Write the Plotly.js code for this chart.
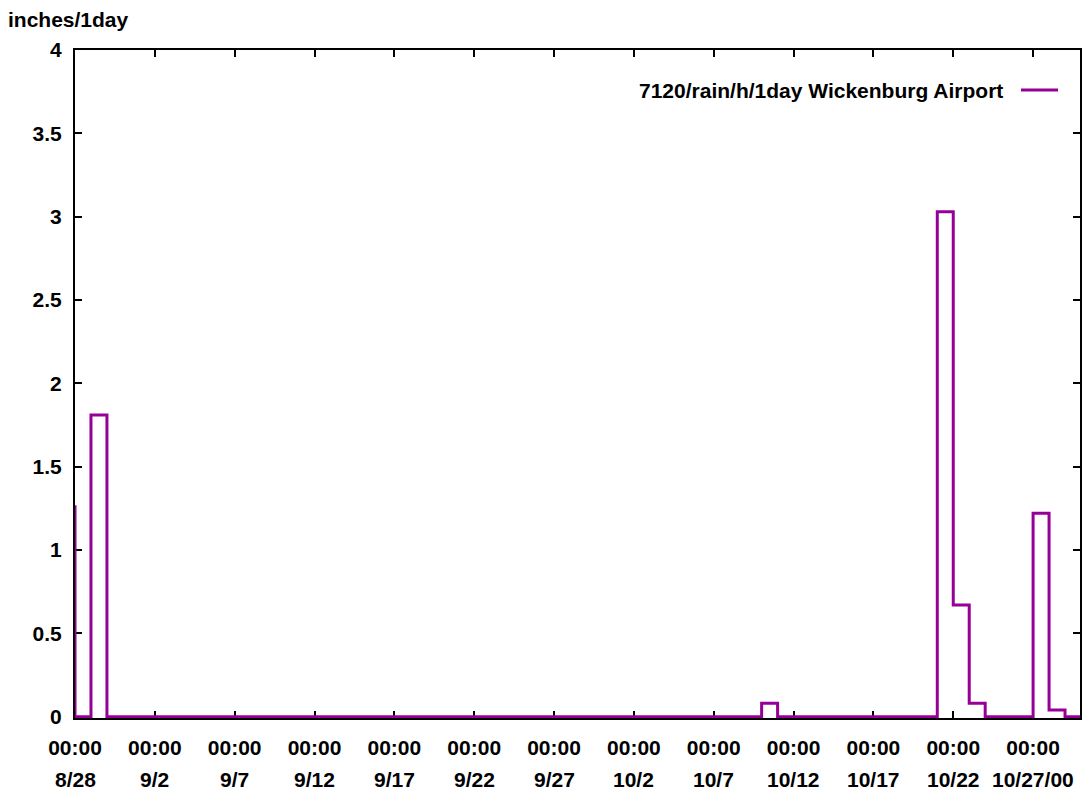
<!DOCTYPE html>
<html>
<head>
<meta charset="utf-8">
<script src="https://cdn.plot.ly/plotly-3.0.1.min.js"></script>
<style>html,body{margin:0;padding:0;background:#fff;}#chart{width:1084px;height:794px;}</style>
</head>
<body>
<div id="chart"></div>
<script>
// Daily rainfall, inches per day (gnuplot "steps" style)
var days = [
  '2000-08-27','2000-08-28','2000-08-29','2000-08-30','2000-08-31',
  '2000-09-01','2000-09-02','2000-09-03','2000-09-04','2000-09-05','2000-09-06','2000-09-07','2000-09-08','2000-09-09','2000-09-10',
  '2000-09-11','2000-09-12','2000-09-13','2000-09-14','2000-09-15','2000-09-16','2000-09-17','2000-09-18','2000-09-19','2000-09-20',
  '2000-09-21','2000-09-22','2000-09-23','2000-09-24','2000-09-25','2000-09-26','2000-09-27','2000-09-28','2000-09-29','2000-09-30',
  '2000-10-01','2000-10-02','2000-10-03','2000-10-04','2000-10-05','2000-10-06','2000-10-07','2000-10-08','2000-10-09','2000-10-10',
  '2000-10-11','2000-10-12','2000-10-13','2000-10-14','2000-10-15','2000-10-16','2000-10-17','2000-10-18','2000-10-19','2000-10-20',
  '2000-10-21','2000-10-22','2000-10-23','2000-10-24','2000-10-25','2000-10-26','2000-10-27','2000-10-28','2000-10-29','2000-10-30'
];
var rain = [
  1.26, 0, 1.81, 0, 0,
  0, 0, 0, 0, 0, 0, 0, 0, 0, 0,
  0, 0, 0, 0, 0, 0, 0, 0, 0, 0,
  0, 0, 0, 0, 0, 0, 0, 0, 0, 0,
  0, 0, 0, 0, 0, 0, 0, 0, 0, 0.08,
  0, 0, 0, 0, 0, 0, 0, 0, 0, 0,
  3.03, 0.67, 0.08, 0, 0, 0, 1.22, 0.04, 0, 0
];
var seriesName = '7120/rain/h/1day Wickenburg Airport';
var yTitle = 'inches/1day';

var tickDates = ['2000-08-28','2000-09-02','2000-09-07','2000-09-12','2000-09-17','2000-09-22','2000-09-27',
                 '2000-10-02','2000-10-07','2000-10-12','2000-10-17','2000-10-22','2000-10-27'];
var timeLabels = ['00:00','00:00','00:00','00:00','00:00','00:00','00:00','00:00','00:00','00:00','00:00','00:00','00:00'];
var dateLabels = ['8/28','9/2','9/7','9/12','9/17','9/22','9/27','10/2','10/7','10/12','10/17','10/22','10/27/00'];
var yTicks = [0, 0.5, 1, 1.5, 2, 2.5, 3, 3.5, 4];
var yTickLabels = ['0','0.5','1','1.5','2','2.5','3','3.5','4'];

var xRange = ['2000-08-28 00:00', '2000-10-29 22:30'];
var purple = '#960096';
var fontFam = 'Liberation Sans, Arial, sans-serif';
var baseFont = {family: fontFam, size: 21, color: '#000', weight: 'bold'};

var trace = {
  x: days, y: rain, type: 'scatter', mode: 'lines', name: seriesName,
  line: {shape: 'hv', color: purple, width: 3},
  showlegend: false, hoverinfo: 'x+y'
};

var W = 1084, H = 794, L = 75, R = 4, T = 50, B = 76;
var pw = W - L - R, ph = H - T - B;

var annotations = [{
  text: seriesName, xref: 'paper', yref: 'paper',
  x: (1005 - L) / pw, xanchor: 'right', y: (H - B - 90) / ph, yanchor: 'middle',
  showarrow: false, font: baseFont
}];
for (var i = 0; i < tickDates.length; i++) {
  annotations.push({
    text: dateLabels[i], xref: 'x', yref: 'paper', x: tickDates[i], y: 0,
    xanchor: 'center', yanchor: 'middle', yshift: -61, showarrow: false, font: baseFont
  });
}

var layout = {
  width: W, height: H,
  margin: {l: L, r: R, t: T, b: B, pad: 0},
  paper_bgcolor: '#fff', plot_bgcolor: '#fff',
  showlegend: false,
  font: baseFont,
  title: {text: yTitle, xref: 'container', yref: 'container', x: 8 / W, xanchor: 'left',
          y: 1 - 20 / H, yanchor: 'middle', font: baseFont},
  xaxis: {
    type: 'date', range: xRange, tickmode: 'array', tickvals: tickDates, ticktext: timeLabels,
    ticks: 'inside', ticklen: 7, tickwidth: 2, tickcolor: '#000',
    showline: true, linecolor: '#000', linewidth: 2, mirror: 'ticks',
    showgrid: false, zeroline: false, layer: 'below traces',
    ticklabelstandoff: 10, tickfont: baseFont, fixedrange: true
  },
  yaxis: {
    range: [-0.008, 4], tickmode: 'array', tickvals: yTicks, ticktext: yTickLabels,
    ticks: 'inside', ticklen: 7, tickwidth: 2, tickcolor: '#000',
    showline: true, linecolor: '#000', linewidth: 2, mirror: 'ticks',
    showgrid: false, zeroline: false, layer: 'below traces',
    ticklabelstandoff: 7, tickfont: baseFont, fixedrange: true
  },
  annotations: annotations,
  shapes: [{
    type: 'line', xref: 'paper', yref: 'paper',
    x0: (1021 - L) / pw, x1: (1058 - L) / pw,
    y0: (H - B - 90) / ph, y1: (H - B - 90) / ph,
    line: {color: purple, width: 3}
  }]
};

Plotly.newPlot('chart', [trace], layout, {displayModeBar: false, staticPlot: true});
</script>
</body>
</html>
